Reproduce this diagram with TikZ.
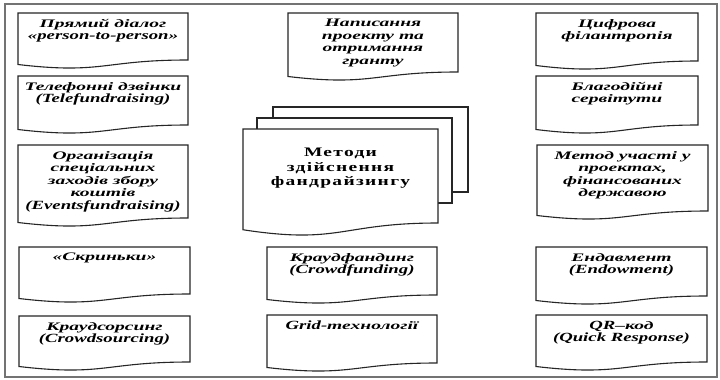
\documentclass[tikz,border=0pt]{standalone}
\usepackage{fontspec}
\setmainfont{Liberation Serif}[FakeStretch=1.7]
\newfontfamily\latfont{Liberation Serif}[FakeStretch=1.5]
\newfontfamily\headfont{Liberation Serif}[FakeStretch=1.5,LetterSpace=10]
\newcommand\lat[1]{{\fontsize{12.5}{12.5}\selectfont\latfont #1}}
\usetikzlibrary{calc}

% Outline of a "document" sheet drawn round an empty node:
% flat top, straight sides, wavy bottom edge.
\newcommand\docoutline[2][1]{%
  \draw[docline] let \p1=(#2.north west), \p2=(#2.south east) in
    (\p1) -- (\x2,\y1) -- (\x2,{\y2+8pt*#1})
    .. controls ({(\x1+\x2)/2},{\y2+8pt*#1}) and ({(\x1+\x2)/2},{\y2-6.5pt*#1})
    .. (\x1,{\y2+3.5pt*#1}) -- cycle;}

% \docbox{name}{left}{top}{width}{height}{text}
\newcommand\docbox[6]{%
  \node[sheetarea, minimum width=#4pt, minimum height=#5pt] (#1) at (#2,#3) {};
  \docoutline{#1}
  \node[methodtext] (#1-t) at ([yshift=-6pt]#1.north) {#6};}

\begin{document}
\begin{tikzpicture}[x=1pt,y=-1pt,
  docline/.style={draw=black!85, line width=1.1pt, fill=white},
  sheetarea/.style={draw=none, inner sep=0pt, outer sep=0pt, anchor=north west},
  methodtext/.style={anchor=north, align=center, inner sep=0pt,
    font=\fontsize{11.5}{12.5}\selectfont\bfseries\itshape},
  headtext/.style={anchor=north, align=center, inner sep=0pt,
    font=\fontsize{13}{14.5}\selectfont\headfont\bfseries}]

\useasboundingbox (0,0) rectangle (720,380);
\fill[white] (0,0) rectangle (720,380);
\draw[black!55, line width=1.2pt] (5,4) rectangle (717,377);

% left column
\docbox{L1}{18}{13}{170}{55}{Прямий діалог\\«\lat{person-to-person}»}
\docbox{L2}{18}{76}{170}{57}{Телефонні дзвінки\\\lat{(Telefundraising)}}
\docbox{L3}{18}{145}{170}{81}{Організація\\спеціальних\\заходів збору\\коштів\\\lat{(Eventsfundraising)}}
\docbox{L4}{19}{247}{171}{55}{«Скриньки»}
\docbox{L5}{19}{316}{171}{54}{Краудсорсинг\\\lat{(Crowdsourcing)}}

% middle column
\docbox{M1}{288}{13}{170}{67}{Написання\\проекту та\\отримання\\гранту}
\docbox{M2}{267}{247}{170}{56}{Краудфандинг\\\lat{(Crowdfunding)}}
\docbox{M3}{267}{315}{170}{56}{\lat{Grid-}технології}

% right column
\docbox{R1}{536}{13}{162}{56}{Цифрова\\філантропія}
\docbox{R2}{536}{76}{162}{57}{Благодійні\\сервітути}
\docbox{R3}{537}{145}{171}{74}{Метод участі у\\проектах,\\фінансованих\\державою}
\docbox{R4}{536}{247}{171}{57}{Ендавмент\\\lat{(Endowment)}}
\docbox{R5}{536}{315}{171}{55}{\lat{QR}–код\\\lat{(Quick Response)}}

% central stack of sheets
\node[sheetarea, minimum width=195pt, minimum height=85pt] (back) at (273,107) {};
\node[sheetarea, minimum width=195pt, minimum height=85pt] (middle) at (257,118) {};
\node[sheetarea, minimum width=195pt, minimum height=106pt] (front) at (243,129) {};
\draw[docline] (back.north west) rectangle (back.south east);
\draw[docline] (middle.north west) rectangle (middle.south east);
\docoutline[1.5]{front}
\node[headtext] (front-t) at ([yshift=-19pt]front.north) {Методи\\здійснення\\фандрайзингу};
\end{tikzpicture}
\end{document}
